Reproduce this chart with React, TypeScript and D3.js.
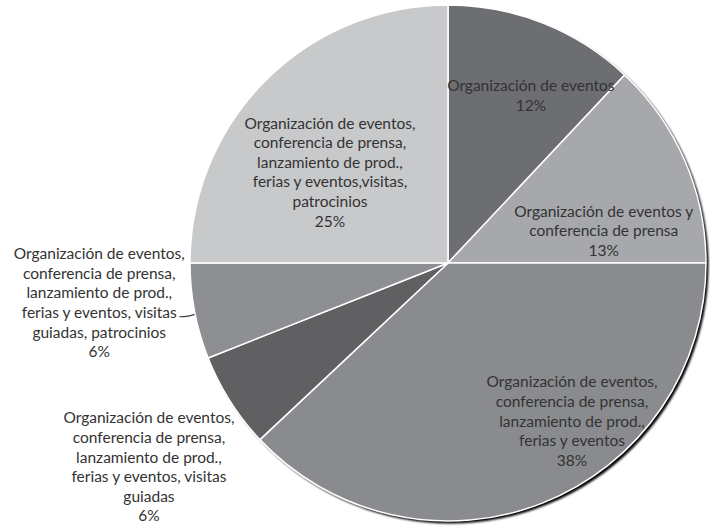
import React, { useEffect, useRef } from "react";
import * as d3 from "d3";

// slice labels (lines) and values, clockwise from 12 o'clock
const labels: string[][] = [
  ["Organización de eventos"],
  ["Organización de eventos y", "conferencia de prensa"],
  ["Organización de eventos,", "conferencia de prensa,", "lanzamiento de prod.,", "ferias y eventos"],
  ["Organización de eventos,", "conferencia de prensa,", "lanzamiento de prod.,", "ferias y eventos, visitas", "guiadas"],
  ["Organización de eventos,", "conferencia de prensa,", "lanzamiento de prod.,", "ferias y eventos, visitas", "guiadas, patrocinios"],
  ["Organización de eventos,", "conferencia de prensa,", "lanzamiento de prod.,", "ferias y eventos,visitas,", "patrocinios"],
];
const values = [12, 13, 38, 6, 6, 25];
const colors = ["#6d6e71", "#a7a8ab", "#8a8b8e", "#606063", "#8e8f92", "#c8c9cb"];

// label placement: angle (deg, clockwise from top) and distance from centre
const labelAngle = [26.3, 78.4, 141.9, 235.7, 263.5, 307.6];
const labelDist = [187, 159, 201, 362, 351, 149];

const width = 710;
const height = 527;

const App = () => {
  const svgRef = useRef<SVGSVGElement>(null);

  useEffect(() => {
    const svg = d3.select(svgRef.current);
    svg.selectAll("*").remove();

    const cx = 448;
    const cy = 263;
    const r = 258;

    const defs = svg.append("defs");
    const f = defs
      .append("filter")
      .attr("id", "shadow")
      .attr("x", "-10%")
      .attr("y", "-10%")
      .attr("width", "120%")
      .attr("height", "120%");
    f.append("feGaussianBlur").attr("stdDeviation", 1.2);

    const g = svg.append("g").attr("transform", `translate(${cx},${cy})`);

    // drop shadow
    g.append("circle")
      .attr("cx", 2.5)
      .attr("cy", 2.5)
      .attr("r", r)
      .attr("fill", "#000")
      .attr("filter", "url(#shadow)");

    const pie = d3.pie<number>().sort(null).value((d) => d);
    const arcs = pie(values);
    const arc = d3.arc<d3.PieArcDatum<number>>().innerRadius(0).outerRadius(r);

    g.selectAll("path.slice")
      .data(arcs)
      .join("path")
      .attr("class", "slice")
      .attr("d", arc)
      .attr("fill", (_, i) => colors[i])
      .attr("stroke", "#fff")
      .attr("stroke-width", 1.5)
      .attr("stroke-linejoin", "round");

    const lineH = 19.6;
    const toXY = (i: number) => {
      const a = (labelAngle[i] * Math.PI) / 180;
      return [Math.sin(a) * labelDist[i], -Math.cos(a) * labelDist[i]];
    };

    // leader line for the outside "patrocinios" label
    {
      const i = 4;
      const [lx, ly] = toXY(i);
      const mid = (arcs[i].startAngle + arcs[i].endAngle) / 2;
      const ex = Math.sin(mid) * r;
      const ey = -Math.cos(mid) * r;
      const sx = lx + 80;
      const sy = ly + 14;
      g.append("path")
        .attr("d", `M${sx},${sy} Q${sx + 10},${sy} ${ex},${ey + 3}`)
        .attr("fill", "none")
        .attr("stroke", "#404040")
        .attr("stroke-width", 1.2);
    }

    labels.forEach((lines, i) => {
      const [lx, ly] = toXY(i);
      const all = [...lines, `${values[i]}%`];
      const t = g
        .append("text")
        .attr("text-anchor", "middle")
        .attr("font-family", "Lato, 'Open Sans', sans-serif")
        .attr("font-size", 15.5)
        .attr("fill", "#333");
      const y0 = ly - ((all.length - 1) * lineH) / 2;
      all.forEach((s, k) => {
        t.append("tspan")
          .attr("x", lx)
          .attr("y", y0 + k * lineH)
          .attr("dy", "0.35em")
          .text(s);
      });
    });
  }, []);

  return (
    <svg
      ref={svgRef}
      width={width}
      height={height}
      style={{ position: "absolute", left: 0, top: 0, background: "#fff" }}
    />
  );
};

export default App;
